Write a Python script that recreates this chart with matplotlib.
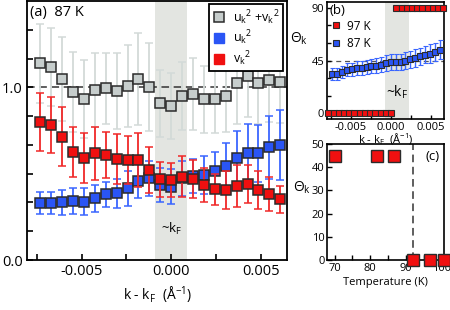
import numpy as np
import matplotlib
matplotlib.use("Agg")
import matplotlib.pyplot as plt
from matplotlib.lines import Line2D

plt.rcParams['font.family'] = ['Open Sans', 'DejaVu Sans']
plt.rcParams['mathtext.default'] = 'regular'

# momentum grid (87 K) in 1/A
k87 = [-0.00732, -0.00671, -0.00610, -0.00549, -0.00488, -0.00427, -0.00366,
       -0.00305, -0.00244, -0.00183, -0.00122, -0.00061, 0.0, 0.00061,
       0.00122, 0.00183, 0.00244, 0.00305, 0.00366, 0.00427, 0.00488,
       0.00549, 0.00610]

# panel (a): coherence factors
uv_sum = [1.139, 1.116, 1.050, 0.975, 0.932, 0.984, 0.994, 0.979, 1.008, 1.048,
          1.004, 0.907, 0.892, 0.951, 0.961, 0.930, 0.932, 0.951, 1.025, 1.067,
          1.025, 1.040, 1.031]
uv_sum_err = [0.228, 0.226, 0.243, 0.232, 0.226, 0.212, 0.207, 0.218, 0.237,
              0.264, 0.255, 0.193, 0.189, 0.197, 0.207, 0.193, 0.197, 0.207,
              0.24, 0.24, 0.24, 0.24, 0.24]
u2 = [0.328, 0.328, 0.334, 0.342, 0.338, 0.357, 0.380, 0.386, 0.415, 0.459,
      0.473, 0.434, 0.425, 0.473, 0.486, 0.492, 0.517, 0.546, 0.589, 0.618,
      0.618, 0.652, 0.666]
u2_err = [0.064, 0.064, 0.072, 0.077, 0.077, 0.077, 0.073, 0.082, 0.10, 0.10,
          0.10, 0.10, 0.10, 0.10, 0.10, 0.11, 0.11, 0.13, 0.16, 0.17, 0.165,
          0.18, 0.20]
v2 = [0.801, 0.782, 0.714, 0.627, 0.589, 0.618, 0.608, 0.585, 0.579, 0.579,
      0.521, 0.467, 0.463, 0.482, 0.467, 0.434, 0.409, 0.405, 0.428, 0.438,
      0.405, 0.382, 0.351]
v2_err = [0.168, 0.164, 0.170, 0.145, 0.145, 0.155, 0.135, 0.145, 0.140, 0.157,
          0.131, 0.10, 0.10, 0.12, 0.11, 0.10, 0.09, 0.11, 0.12, 0.11, 0.11,
          0.10, 0.08]

# panel (b): Theta_k
theta87 = [33.4, 33.4, 35.3, 37.3, 37.6, 38.5, 38.7, 39.6, 40.2, 40.7, 41.6,
           43.0, 43.8, 43.8, 43.8, 45.0, 46.1, 47.5, 48.6, 50.1, 50.9, 52.3,
           54.3]
theta87_err = [5.0, 5.0, 5.5, 5.5, 5.5, 6, 6, 6, 6, 6.5, 6.5, 6.5, 6.5, 6.5,
               7, 7, 7, 7.5, 7.5, 7.5, 8, 8, 8]
k97 = [-0.00783, -0.00718, -0.00652, -0.00587, -0.00521, -0.00456, -0.00390,
       -0.00325, -0.00259, -0.00194, -0.00128, -0.00063, 0.00003, 0.00069,
       0.00134, 0.00200, 0.00265, 0.00331, 0.00396, 0.00462, 0.00527,
       0.00593, 0.00658]
theta97 = [0] * 13 + [90] * 10

# panel (c): Theta_k vs temperature
temps = [70.2, 82.0, 86.8, 92.0, 96.8, 100.7]
theta_t = [45, 45, 45, 0, 0, 0]
tc = 92.0

gray_face = '#c6cdcc'
gray_err = '#d3dad8'
blue = '#2a55f5'
blue_err = '#3a66ff'
red = '#f01010'
red_err = '#f02828'
edge = '#2b2b2b'
band = '#e3e5e1'

fig = plt.figure(figsize=(4.5, 3.1), dpi=100)
ax = fig.add_axes([27 / 450, 50 / 310, 260.3 / 450, 259 / 310])

ax.axvspan(-0.0009, 0.0009, color=band, zorder=0, lw=0)
ax.axhline(1.0, color='#333333', ls=(0, (5, 3)), lw=1.1, zorder=1)

ms = 7.3
ax.errorbar(k87, uv_sum, yerr=uv_sum_err, fmt='s', ms=ms, mfc=gray_face,
            mec=edge, mew=1.1, ecolor=gray_err, elinewidth=1.3, capsize=2.8,
            capthick=1.3, zorder=2)
ax.errorbar(k87, u2, yerr=u2_err, fmt='s', ms=ms, mfc=blue, mec=edge, mew=1.1,
            ecolor=blue_err, elinewidth=1.3, capsize=2.8, capthick=1.3,
            zorder=3)
ax.errorbar(k87, v2, yerr=v2_err, fmt='s', ms=ms, mfc=red, mec=edge, mew=1.1,
            ecolor=red_err, elinewidth=1.3, capsize=2.8, capthick=1.3,
            zorder=4)

ax.set_xlim(-0.00806, 0.00649)
ax.set_ylim(0, 1.5)
ax.set_xticks([-0.005, 0.0, 0.005])
ax.set_xticklabels(['-0.005', '0.000', '0.005'])
ax.set_xticks([-0.0075, -0.0025, 0.0025], minor=True)
ax.set_yticks([0, 1])
ax.set_yticklabels(['0.0', '1.0'])
ax.set_yticks([1 / 6, 2 / 6, 3 / 6, 4 / 6, 5 / 6, 7 / 6, 8 / 6], minor=True)
ax.tick_params(which='both', direction='in', length=4, width=1.2,
               labelsize=10.5, pad=3)
for s in ax.spines.values():
    s.set_linewidth(1.3)
ax.set_xlabel('k - k$_F$  ($\\AA^{-1}$)', fontsize=10, labelpad=4)
ax.text(0.012, 0.985, '(a)  87 K', transform=ax.transAxes, fontsize=10.5,
        va='top', ha='left')
ax.text(0.0, 0.12, '~k$_F$', transform=ax.get_xaxis_transform(), fontsize=9.5,
        ha='center', va='center')

handles = [
    Line2D([], [], ls='none', marker='s', ms=7, mfc=gray_face, mec=edge, mew=1.1),
    Line2D([], [], ls='none', marker='s', ms=7, mfc=blue, mec=blue),
    Line2D([], [], ls='none', marker='s', ms=7, mfc=red, mec=red),
]
leg = ax.legend(handles, ['u$_k$$^2$ +v$_k$$^2$', 'u$_k$$^2$', 'v$_k$$^2$'],
                loc='upper right', bbox_to_anchor=(0.985, 0.988),
                borderaxespad=0, fancybox=False, framealpha=1, fontsize=9,
                handlelength=1.0, handletextpad=0.6, labelspacing=0.15,
                borderpad=0.3)
leg.get_frame().set_edgecolor('black')
leg.get_frame().set_linewidth(1.3)
leg.set_zorder(10)

# panel (c) first, so panel (b)'s x label sits on top of it
cx = fig.add_axes([327.3 / 450, 50 / 310, 116.7 / 450, 116 / 310])
cx.set_facecolor('none')
cx.axvline(tc, color='#333333', ls=(0, (5, 3)), lw=1.1, zorder=1)
cx.plot(temps, theta_t, 's', ms=8, mfc=red, mec=edge, mew=1.0, zorder=4,
        clip_on=False)
cx.set_xlim(67.97, 100.7)
cx.set_ylim(0, 50)
cx.set_xticks([70, 80, 90, 100])
cx.set_xticks([75, 85, 95], minor=True)
cx.set_yticks([0, 10, 20, 30, 40, 50])
cx.tick_params(which='both', direction='in', length=3.5, width=1.0,
               labelsize=8, pad=2)
for s in cx.spines.values():
    s.set_linewidth(1.2)
cx.set_xlabel('Temperature (K)', fontsize=8, labelpad=2)
cx.set_ylabel('$\\Theta_k$', fontsize=10, rotation=0, labelpad=8)
cx.yaxis.set_label_coords(-0.22, 0.55)
cx.text(0.96, 0.95, '(c)', transform=cx.transAxes, fontsize=9.5,
        va='top', ha='right')

# panel (b)
bx = fig.add_axes([327 / 450, (310 - 119.3) / 310, 117 / 450, 117.3 / 310])
bx.axvspan(-0.0007, 0.0023, color=band, zorder=0, lw=0)
bx.axhline(45, color='#555555', ls=(0, (4, 3)), lw=0.9, zorder=1)
bx.errorbar(k87, theta87, yerr=theta87_err, fmt='s', ms=4, mfc=blue,
            mec=edge, mew=0.8, ecolor=blue_err, elinewidth=1.0, capsize=1.8,
            capthick=1.0, zorder=3)
bx.plot(k97, theta97, 's', ms=4, mfc=red, mec=edge, mew=0.8, zorder=4,
        clip_on=False)
bx.set_xlim(-0.0080, 0.00666)
bx.set_ylim(-5, 95)
bx.set_xticks([-0.005, 0.0, 0.005])
bx.set_xticklabels(['-0.005', '0.000', '0.005'])
bx.set_xticks([-0.0075, -0.0025, 0.0025], minor=True)
bx.set_yticks([0, 45, 90])
bx.set_yticks([15, 30, 60, 75], minor=True)
bx.tick_params(which='both', direction='in', length=3, width=1.0,
               labelsize=8, pad=2)
for s in bx.spines.values():
    s.set_linewidth(1.2)
bx.set_xlabel('k - k$_F$  ($\\AA^{-1}$)', fontsize=8, labelpad=-1)
bx.set_ylabel('$\\Theta_k$', fontsize=10, rotation=0, labelpad=8)
bx.yaxis.set_label_coords(-0.24, 0.62)
bx.text(0.02, 0.985, '(b)', transform=bx.transAxes, fontsize=9.5,
        va='top', ha='left')
bx.text(0.0008, 18, '~k$_F$', fontsize=10, ha='center', va='center')
bl = [Line2D([], [], ls='none', marker='s', ms=4, mfc=red, mec=edge, mew=0.8),
      Line2D([], [], ls='none', marker='s', ms=4, mfc=blue, mec=edge, mew=0.8)]
bx.legend(bl, ['97 K', '87 K'], loc='upper left', bbox_to_anchor=(0.04, 0.85),
          frameon=False, fontsize=8.5, handlelength=0.8, handletextpad=0.5,
          labelspacing=0.4, borderaxespad=0, borderpad=0)

fig.savefig('out.png', dpi=100)
